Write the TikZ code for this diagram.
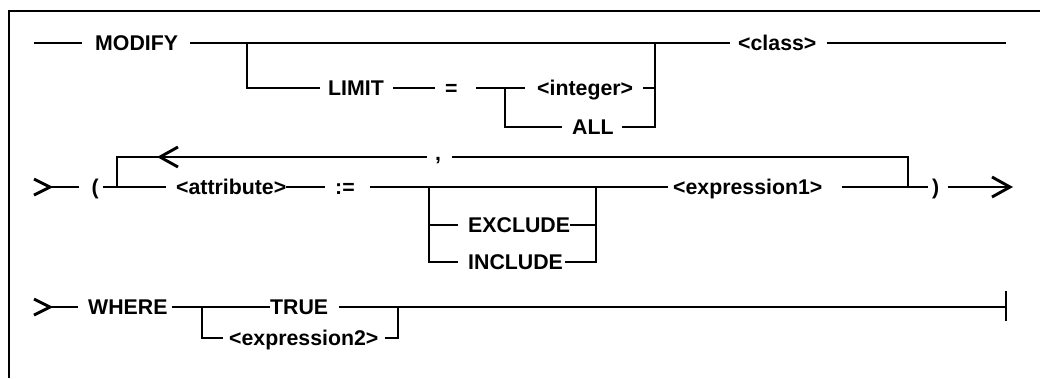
\documentclass[tikz,border=0pt]{standalone}
\usepackage{fontspec}
\setmainfont{Liberation Sans}
\begin{document}
\begin{tikzpicture}[x=1pt,y=-1pt,
  lbl/.style={font=\bfseries\fontsize{21.3}{21.3}\selectfont, inner sep=0pt, text height=15pt, text depth=0pt, anchor=west},
  rail/.style={line width=2.9pt},
  chev/.style={line width=2.9pt, line join=miter},
  framestyle/.style={line width=2pt}]
\useasboundingbox (0,0) rectangle (1040,378);
\draw[framestyle] (9,378) -- (9,11) -- (1040,11);

% ---------- row 1 ----------
\coordinate (r1s) at (34,43);
\node[lbl] (modify) at (95,43) {MODIFY};
\node[lbl] (class) at (738,43) {<class>};
\coordinate (r1e) at (1006,43);
\coordinate (j1a) at (247,43);
\coordinate (j1b) at (655,43);
\node[lbl] (limit) at (328,88) {LIMIT};
\node[lbl] (eq) at (445,88) {=};
\coordinate (j1c) at (505,88);
\node[lbl] (integer) at (537,88) {<integer>};
\node[lbl] (all) at (572,127) {ALL};

\draw[rail] (r1s) -- ([xshift=-13pt]modify.west);
\draw[rail] ([xshift=12pt]modify.east) -- ([xshift=-8pt]class.west);
\draw[rail] ([xshift=10pt]class.east) -- (r1e);
\draw[rail] (j1a) |- ([xshift=-8pt]limit.west);
\draw[rail] ([xshift=9pt]limit.east) -- ([xshift=-10pt]eq.west);
\draw[rail] ([xshift=18pt]eq.east) -- ([xshift=-12pt]integer.west);
\draw[rail] (j1c) |- ([xshift=-10pt]all.west);
\draw[rail] ([xshift=10pt]integer.east) -| (j1b);
\draw[rail] ([xshift=8pt]all.east) -| (j1b);

% ---------- row 2 ----------
\coordinate (a2) at (50,187);
\draw[chev] ([shift={(-16,-8)}]a2) -- (a2) -- ([shift={(-16,8)}]a2);
\node[lbl] (lp) at (91.5,187) {(};
\draw[rail] (a2) -- ([xshift=-13pt]lp.west);
\coordinate (j2a) at (117,187);
\node[lbl] (attr) at (176,187) {<attribute>};
\draw[rail] ([xshift=4pt]lp.east) -- ([xshift=-10pt]attr.west);
\node[lbl] (assign) at (335,187) {:=};
\draw[rail] (attr.east) -- ([xshift=-10pt]assign.west);
\coordinate (j2b) at (429,187);
\coordinate (j2c) at (596,187);
\node[lbl] (expr1) at (673,187) {<expression1>};
\draw[rail] ([xshift=15pt]assign.east) -- ([xshift=-5pt]expr1.west);
\node[lbl] (exclude) at (468,225) {EXCLUDE};
\node[lbl] (include) at (468,262) {INCLUDE};
\draw[rail] (j2b) |- ([xshift=-10pt]include.west);
\draw[rail] (j2b |- exclude.west) -- ([xshift=-10pt]exclude.west);
\draw[rail] ([xshift=2pt]include.east) -| (j2c);
\draw[rail] (exclude.east) -- (j2c |- exclude.east);
% loop
\coordinate (j2d) at (908,187);
\coordinate (la) at (117,157);
\coordinate (lb) at (427,157);
\coordinate (lc) at (452,157);
\coordinate (ld) at (908,157);
\node[lbl, anchor=base west] (comma) at (435,160) {,};
\draw[rail] (j2a) -- (la) -- (lb);
\draw[rail] (lc) -- (ld) -- (j2d);
\coordinate (lt) at (160,157);
\draw[chev] ([shift={(18,-10)}]lt) -- (lt) -- ([shift={(18,10)}]lt);
\node[lbl] (rp) at (932,187) {)};
\draw[rail] ([xshift=19pt]expr1.east) -- ([xshift=-4pt]rp.west);
\coordinate (a2e) at (1010,187);
\draw[rail] ([xshift=8pt]rp.east) -- (a2e);
\draw[chev] ([shift={(-18,-10)}]a2e) -- (a2e) -- ([shift={(-18,10)}]a2e);

% ---------- row 3 ----------
\coordinate (a3) at (50,307);
\draw[chev] ([shift={(-16,-8)}]a3) -- (a3) -- ([shift={(-16,8)}]a3);
\node[lbl] (where) at (88,307) {WHERE};
\draw[rail] (a3) -- ([xshift=-10pt]where.west);
\coordinate (j3a) at (202,307);
\node[lbl] (true) at (270,307) {TRUE};
\draw[rail] ([xshift=4pt]where.east) -- (true.west);
\node[lbl] (expr2) at (229,338) {<expression2>};
\draw[rail] (j3a) |- ([xshift=-6pt]expr2.west);
\coordinate (j3b) at (398,307);
\draw[rail] ([xshift=6pt]expr2.east) -| (j3b);
\coordinate (r3e) at (1006,307);
\draw[rail] ([xshift=11pt]true.east) -- (r3e);
\draw[rail] ([yshift=-14pt]r3e) -- ([yshift=16pt]r3e);
\end{tikzpicture}
\end{document}
